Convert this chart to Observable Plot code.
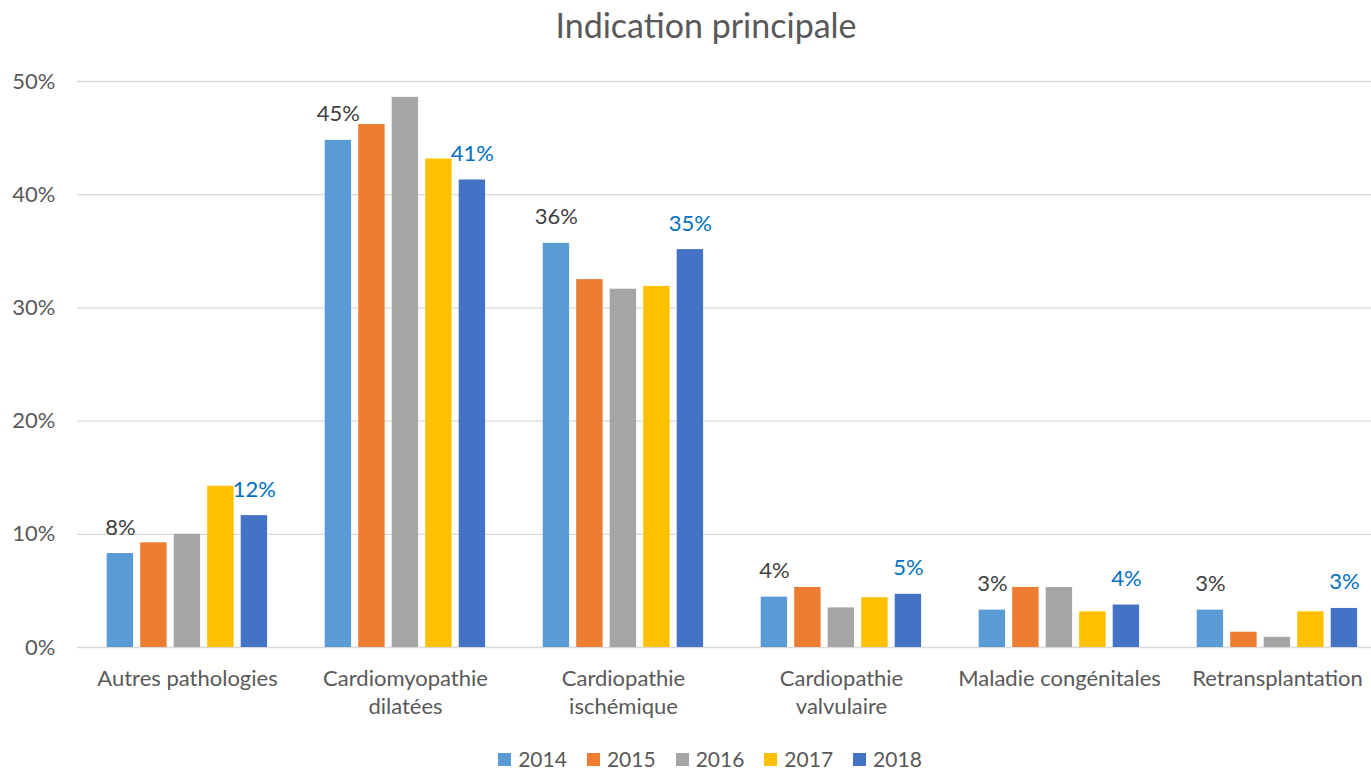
<!DOCTYPE html>
<html>
<head>
<meta charset="utf-8">
<script src="https://cdn.jsdelivr.net/npm/d3@7"></script>
<script src="https://cdn.jsdelivr.net/npm/@observablehq/plot@0.6"></script>
<style>
  html, body { margin: 0; padding: 0; background: #fff; }
  body { width: 1371px; height: 769px; position: relative; overflow: hidden; font-family: Lato, "Open Sans", sans-serif; }
  #title { position: absolute; left: 0; top: 1px; width: 1412px; height: 48px; line-height: 48px; text-align: center; font-size: 34px; color: #595959; }
  #chart { position: absolute; left: 0; top: 54px; }
  #legend { position: absolute; left: 0; top: 746px; width: 1420px; height: 26px; line-height: 26px; display: flex; justify-content: center; align-items: center; font-size: 21px; color: #595959; }
  .item { display: flex; align-items: center; margin: 0 10px; }
  .sw { width: 13px; height: 13px; margin-right: 7px; }
</style>
</head>
<body>
<div id="title">Indication principale</div>
<div id="chart"></div>
<div id="legend"></div>
<script>
const categories = ["Autres pathologies", "Cardiomyopathie dilatées", "Cardiopathie ischémique", "Cardiopathie valvulaire", "Maladie congénitales", "Retransplantation"];
const axisLabels = ["Autres pathologies", "Cardiomyopathie\ndilatées", "Cardiopathie\nischémique", "Cardiopathie\nvalvulaire", "Maladie congénitales", "Retransplantation"];
const years = ["2014", "2015", "2016", "2017", "2018"];
const v2014 = [8.3, 44.8, 35.7, 4.45, 3.3, 3.3];
const v2015 = [9.25, 46.2, 32.5, 5.3, 5.3, 1.35];
const v2016 = [10.0, 48.6, 31.65, 3.5, 5.3, 0.9];
const v2017 = [14.25, 43.15, 31.9, 4.4, 3.15, 3.15];
const v2018 = [11.65, 41.3, 35.15, 4.7, 3.75, 3.45];
const yTicks = [0, 10, 20, 30, 40, 50];
const colors = ["#5B9BD5", "#ED7D31", "#A5A5A5", "#FFC000", "#4472C4"];
const series = [v2014, v2015, v2016, v2017, v2018];

// layout constants (styling only)
const W = 1371, H = 686;
const xRange = [76.3, 1387.9];
const band = (xRange[1] - xRange[0]) / categories.length;
const groupOffset = 28.7, pitch = 33.5, barW = 27;

const bars = series.map((vals, i) => {
  const left = groupOffset + pitch * i;
  return Plot.barY(categories, {
    x: d => d,
    y: (d, j) => vals[j],
    fill: colors[i],
    insetLeft: left,
    insetRight: band - left - barW
  });
});

const labelOffset = i => groupOffset + pitch * i + barW / 2 - band / 2;

const labels = [
  Plot.text(categories, {
    x: d => d, y: (d, j) => v2014[j],
    text: (d, j) => Math.round(v2014[j]) + "%",
    dx: labelOffset(0), dy: -26, fontSize: 22, fill: "#404040"
  }),
  Plot.text(categories, {
    x: d => d, y: (d, j) => v2018[j],
    text: (d, j) => Math.round(v2018[j]) + "%",
    dx: labelOffset(4), dy: -26, fontSize: 22, fill: "#0070C0"
  })
];

const chart = Plot.plot({
  width: W,
  height: H,
  marginTop: 27,
  marginBottom: 93,
  marginLeft: 77,
  marginRight: 0,
  style: { fontFamily: "Lato, 'Open Sans', sans-serif", background: "transparent" },
  x: { domain: categories, range: xRange, padding: 0, axis: null },
  y: { domain: [0, 50], axis: null },
  marks: [
    Plot.ruleY(yTicks, { stroke: "#d9d9d9", strokeWidth: 1.3 }),
    Plot.text(yTicks, {
      y: d => d, text: d => d + "%", frameAnchor: "left", textAnchor: "end",
      dx: -22, fontSize: 22, fill: "#595959"
    }),
    ...bars,
    ...labels,
    Plot.text(categories, {
      x: d => d, text: (d, j) => axisLabels[j], frameAnchor: "bottom",
      lineAnchor: "top", dy: 19, lineHeight: 1.27, fontSize: 22, fill: "#595959"
    })
  ]
});
document.getElementById("chart").appendChild(chart);

const legend = document.getElementById("legend");
years.forEach((y, i) => {
  const item = document.createElement("div");
  item.className = "item";
  const sw = document.createElement("div");
  sw.className = "sw";
  sw.style.background = colors[i];
  const t = document.createElement("span");
  t.textContent = y;
  item.appendChild(sw);
  item.appendChild(t);
  legend.appendChild(item);
});
</script>
</body>
</html>
